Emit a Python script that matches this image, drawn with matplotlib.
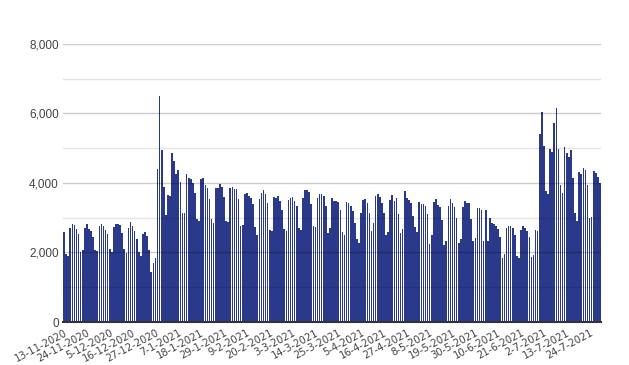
import numpy as np
import pandas as pd
import matplotlib
matplotlib.use('Agg')
import matplotlib.pyplot as plt
from matplotlib.ticker import FuncFormatter, MultipleLocator

plt.rcParams['font.family'] = ['Liberation Sans', 'DejaVu Sans']

# daily values, 13-11-2020 .. 29-7-2021
start_date = '2020-11-13'
values = [
    2600, 1970, 1885, 2710, 2830, 2800, 2680, 2520, 2020, 2080,
    2710, 2830, 2680, 2630, 2450, 2080, 2040, 2770, 2830, 2770,
    2650, 2540, 2100, 2020, 2740, 2830, 2830, 2800, 2570, 2100,
    1990, 2710, 2880, 2770, 2620, 2390, 2010, 1900, 2540, 2600,
    2480, 2080, 1440, 1710, 1850, 4410, 6500, 4960, 3880, 3090,
    3660, 3620, 4850, 4640, 4270, 4360, 4030, 3130, 3130, 4270,
    4140, 4120, 4000, 3710, 2970, 2910, 4120, 4140, 3930, 3860,
    3550, 2970, 2850, 3870, 3870, 3970, 3880, 3600, 2910, 2870,
    3870, 3880, 3840, 3840, 3550, 2770, 2790, 3690, 3720, 3630,
    3580, 3400, 2740, 2510, 3550, 3720, 3810, 3690, 3430, 2650,
    2620, 3610, 3580, 3630, 3490, 3230, 2680, 2620, 3520, 3580,
    3610, 3490, 3350, 2710, 2650, 3580, 3810, 3810, 3750, 3400,
    2770, 2740, 3580, 3690, 3690, 3630, 3350, 2570, 2710, 3580,
    3490, 3490, 3460, 3230, 2600, 2510, 3460, 3430, 3350, 3200,
    2860, 2400, 2280, 3140, 3520, 3550, 3430, 3140, 2620, 2860,
    3630, 3690, 3610, 3430, 3140, 2510, 2600, 3520, 3660, 3490,
    3580, 3120, 2570, 2680, 3780, 3580, 3520, 3430, 3060, 2740,
    2600, 3460, 3400, 3400, 3350, 3120, 2250, 2510, 3460, 3550,
    3380, 3320, 2940, 2220, 2340, 3350, 3550, 3430, 3320, 3000,
    2280, 2400, 3300, 3490, 3430, 3430, 2970, 2340, 2420, 3290,
    3290, 3230, 2340, 3230, 2340, 3000, 2860, 2830, 2770, 2680,
    2450, 1850, 1960, 2710, 2770, 2770, 2700, 2510, 1900, 1840,
    2640, 2760, 2700, 2620, 2440, 1870, 1920, 2640, 2620, 5410,
    6050, 5070, 3770, 3680, 4980, 4890, 5730, 6160, 4980, 3940,
    3710, 5040, 4870, 4750, 4950, 4140, 3130, 2900, 4320, 4260,
    4430, 4370, 3940, 2990, 3020, 4350, 4290, 4170, 4000,
]
dates = pd.date_range(start_date, periods=len(values), freq='D')
tick_dates = dates[::11]

fig = plt.figure(figsize=(6.29, 3.65), dpi=100)
ax = fig.add_axes([0.1002, 0.1178, 0.8553, 0.7617])

ax.bar(dates, values, width=0.78, color='#2b398a', zorder=1)

ax.set_ylim(0, 8000)
ax.set_xlim(dates[0] - pd.Timedelta(hours=12), dates[-1] + pd.Timedelta(hours=12))

ax.yaxis.set_major_locator(MultipleLocator(2000))
ax.yaxis.set_minor_locator(MultipleLocator(1000))
ax.yaxis.set_major_formatter(FuncFormatter(lambda v, p: f'{int(v):,}'))
ax.grid(axis='y', which='major', color='black', alpha=0.2, lw=1, zorder=3)
ax.grid(axis='y', which='minor', color='black', alpha=0.1, lw=1, zorder=3)
ax.set_axisbelow(False)

ax.set_xticks(tick_dates)
ax.set_xticklabels([f'{d.day}-{d.month}-{d.year}' for d in tick_dates],
                   rotation=28, ha='right', rotation_mode='anchor',
                   fontsize=7.2, color='#444444', family='DejaVu Sans')
ax.tick_params(axis='x', length=0, pad=4)
ax.tick_params(axis='y', which='both', length=0, labelsize=8.5, labelcolor='#444444', pad=3)

for s in ['top', 'right', 'left']:
    ax.spines[s].set_visible(False)
ax.spines['bottom'].set_color('#333333')
ax.spines['bottom'].set_linewidth(1.5)
ax.spines['bottom'].set_zorder(4)

fig.savefig('out.png', dpi=100)
